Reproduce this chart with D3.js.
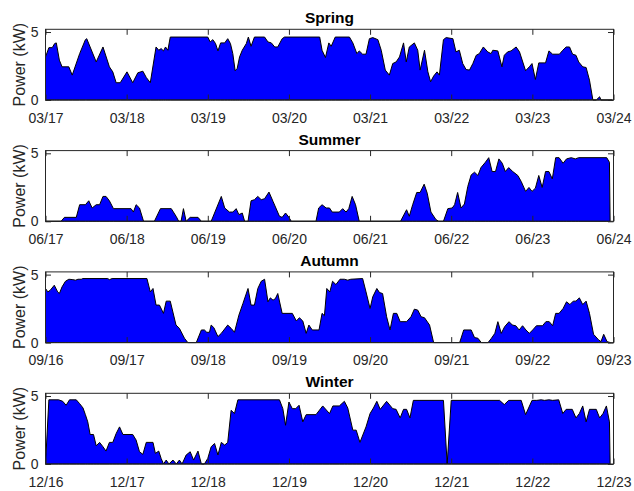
<!DOCTYPE html>
<html>
<head>
<meta charset="utf-8">
<script src="https://cdn.jsdelivr.net/npm/d3@7"></script>
<style>
  body { margin: 0; background: #fff; }
  text { font-family: "Liberation Sans", Arial, Helvetica, sans-serif; }
</style>
</head>
<body>
<div id="chart"></div>
<script>
// hours since start of week, power in kW
const springHours = [0,0.2,1,2,2.7,3.2,4.1,4.9,6.9,7.9,10.1,11.8,12.2,15,17,18.9,19.9,20.9,22.1,24.1,25.8,27.3,28.8,29.8,31,32.7,33.5,34.2,34.9,35.5,36.2,36.9,48,48.7,49.5,50.3,51,51.8,53,53.9,54.7,55.4,56.1,56.7,57.4,58.2,59.4,60,60.8,61.8,64.8,65.8,66.8,67.8,68.7,70,70.7,81.1,81.8,82.8,83.8,84.5,85.7,89.9,90.9,92.1,92.8,93.8,94.8,95.8,96.8,98.3,99.3,100.5,101.7,102.7,103.7,104.7,105.9,106.7,107.6,109.1,110.1,110.8,112.1,113.1,113.9,114.8,115.8,116.5,117.7,118.5,120.5,121.4,122.4,123.4,124.4,125.4,126.4,127.4,128.3,129.5,130.8,131.8,132.3,133.8,135,135.7,136.7,137.7,139.2,140.2,142,143.1,143.9,144.9,145.9,147.9,148.9,150,152,153,154,155,155.9,156.9,157.7,158.9,159.9,160.9,161.9,162.9,163.9,164.3,167.7];
const springPower = [3.17,3.3,3.85,3.85,4.15,4.2,2.93,2.44,2.44,1.83,3.41,4.44,4.51,2.8,3.9,2.44,2.07,1.27,1.27,2.07,1.27,2.0,2.12,1.66,1.27,3.9,3.66,3.78,3.61,3.9,3.66,4.63,4.63,4.27,4.44,4.15,3.61,4.2,4.2,4.51,4.15,3.41,2.15,2.32,3.17,3.66,4.15,4.63,3.95,4.63,4.63,4.27,4.2,3.9,3.9,4.51,4.63,4.63,3.66,3.12,4.2,3.95,4.63,4.63,4.2,3.41,3.61,3.37,3.37,4.51,4.59,4.44,3.66,2.2,1.83,2.68,2.8,3.17,4.2,2.8,3.9,4.2,3.66,2.2,3.66,2.07,1.34,1.76,2.07,1.83,4.44,4.59,4.51,3.54,3.66,2.68,2.24,2.2,2.68,3.29,3.41,3.9,3.54,3.41,3.66,3.61,2.44,3.29,3.54,3.61,3.9,3.54,2.15,2.44,2.68,1.51,2.73,2.73,3.61,3.37,3.37,3.66,3.9,3.9,3.37,3.29,2.8,2.44,2.39,1.46,0,0,0.24,0,0];

const summerHours = [0,4.6,5.6,9.1,10.1,11.8,12.8,13.8,15,16,17,17.9,18.9,20.1,25.3,26,26.8,27.8,29,32.2,34,37.2,38.7,39.4,40.1,40.8,41.6,42.8,45.1,46.1,49,52,53,54.4,55.4,56.4,57.2,58.2,58.9,59.9,60.8,61.8,62.8,63.8,64.8,66.1,67.3,69.2,70,71,72,72.7,80,80.8,81.8,83,84,84.8,86.9,87.9,88.9,89.7,90.7,91.7,92.8,105,106.8,107.6,108.6,109.8,110.8,112,112.9,114,115.5,116.3,117.7,119,120.3,121,121.9,122.9,123.9,124.9,125.9,126.9,127.9,128.8,130.1,131.1,132.1,133.1,134.1,135.1,136,137,138.2,139.7,140.7,142,143,143.9,144.9,145.9,146.9,147.9,148.9,149.9,150.9,151.9,153.1,154.1,155.5,156.7,157.7,166,166.8,167];
const summerPower = [0,0,0.29,0.29,1.22,1.22,1.51,0.98,1.22,1.22,1.83,1.83,1.51,0.93,0.93,0.68,1.22,0.98,0,0,0.93,0.93,0.34,0,0,0.93,0,0.29,0.29,0,0,1.83,0.98,0.68,0.68,0.93,0.49,0.61,0,0,1.51,1.59,1.83,1.59,1.66,2.15,1.46,0.37,0.29,0.61,0.29,0,0,0.98,1.22,0.98,0.98,0.68,0.68,0.93,0.68,0.93,1.83,1.22,0,0,0.85,0.37,1.22,2.12,2.12,2.73,2.07,0.68,0.12,0,0,0.93,0.98,1.22,2.12,0.98,1.27,2.56,3.41,3.61,3.37,3.95,4.34,4.68,3.66,3.66,4.59,4.27,3.66,3.95,3.66,3.37,2.93,2.2,2.49,2.2,2.44,3.37,2.49,3.66,3.66,3.12,4.68,4.68,4.27,4.59,4.68,4.59,4.68,4.68,4.34,0];

const autumnHours = [0,0.7,1.4,2.6,3.6,4.1,4.9,5.9,6.9,8.1,8.9,9.6,10.6,11,18.4,18.9,19.7,30,31,31.8,32.7,33.7,34.9,35.7,36.9,38.6,39.6,41.1,42.1,44.6,46.1,47,47.7,48.5,49,49.8,51,52,53.9,54.9,55.9,57.2,58.4,59.9,60.8,61.8,62.8,63.8,64.8,65.8,66.5,67.3,68,68.7,70,73,74.2,75.1,76.1,77.1,77.9,78.9,80.9,81.8,82.5,83.2,84.1,84.9,85.9,87.1,88.4,89.4,90.3,93.8,94.8,96,96.8,98,98.8,99.7,100.9,101.9,102.9,103.9,104.9,106.8,108.1,109.1,110.1,111.1,112.1,113.6,114.8,122.5,123.7,125.9,126.9,127.9,128.9,130.9,131.9,132.9,133.8,134.8,135.8,137.1,138.1,139.1,140.1,141.1,142.1,143.1,144.1,145.2,147,148,149,150,150.9,151.9,153.1,154.1,155.1,156.1,156.9,157.9,158.9,159.9,160.9,162.1,163.6,164.3,165.1,166.1,167.1];
const autumnPower = [3.98,3.73,3.85,4.22,3.73,3.61,4.1,4.51,4.66,4.63,4.59,4.66,4.66,4.71,4.71,4.63,4.71,4.71,3.73,3.98,2.76,2.76,2.15,3.05,3.05,1.29,1.05,0.32,0,0,0.93,0.93,0.76,0.76,1.29,1.1,0.44,0.68,1.29,1.05,0.76,2.02,2.88,3.98,2.76,2.76,3.98,4.51,4.66,3.0,3.29,3.12,3.24,3.61,2.15,2.15,1.59,1.83,1.59,0.68,1.29,0.93,0.93,2.15,1.98,3.98,3.73,4.51,4.27,4.66,4.66,4.59,4.66,4.71,3.73,2.51,3.37,3.98,3.68,3.61,1.9,0.93,2.15,2.15,1.54,1.54,1.9,2.46,2.39,1.9,1.83,1.29,0,0,0.93,0.93,0.37,0.32,0,0,0.32,0.68,1.54,0.68,1.17,1.54,1.29,1.24,0.93,1.24,0.93,0.68,0.93,1.24,1.24,1.54,1.54,1.24,2.15,2.15,2.51,3.0,2.8,3.05,3.05,3.29,2.8,3.05,2.15,0.61,0.2,0.07,0.61,0.07,0];

const winterHours = [0,1,3.9,5.1,6.1,7.1,9.1,10.1,11.1,11.8,12.5,13.2,14.2,15,16,17,17.9,18.9,19.9,20.9,21.9,22.9,25.8,26.8,27.8,28.8,29.8,31.8,32.5,33.5,34.2,34.9,35.7,36.5,37.7,38.7,39.6,40.4,41.6,42.8,43.8,45.1,46.1,47,48,49,50,51,52,53,53.9,54.9,55.9,56.9,69.2,70.2,71,72,73,74,75,76.1,77.1,80,82,84,85,86.9,88.4,89.4,90.9,91.9,93,94.8,96,97,98,99,100.9,102.7,103.7,104.9,105.9,106.8,107.8,108.8,117.7,118.8,120,134.3,135.7,137,140.7,142,143.9,145.3,146.6,147.6,148.9,150,151.8,153,154,155.8,156.9,157.9,158.9,159.9,160.9,162.9,163.9,164.9,165.9,166.8,167];
const winterPower = [0,4.72,4.72,4.61,4.32,4.72,4.72,4.44,4.12,3.63,3.1,2.17,2.17,1.34,1.59,1.27,0.95,1.59,1.59,2.24,2.73,2.17,2.17,1.76,0.9,0.71,1.59,1.59,0.78,0.95,0.41,0,0.29,0,0.29,0,0.29,0,0.66,0.9,0.29,0.95,0,0,0.41,1.27,1.51,0.66,1.59,1.39,1.59,3.95,3.71,4.72,4.72,4.07,2.85,4.56,4.07,4.07,4.32,3.1,3.63,3.63,4.27,3.71,4.27,4.27,4.61,4.12,2.49,2.49,1.59,2.73,3.71,4.12,4.61,4.02,4.61,4.07,4.02,3.39,4.02,4.02,3.39,4.68,4.68,0,4.68,4.68,4.37,4.68,4.68,3.63,4.68,4.68,4.72,4.68,4.72,4.68,4.72,3.71,4.02,4.02,3.39,3.71,4.27,3.1,4.02,4.02,3.39,3.71,4.27,3.1,0];

const seasons = ["Spring", "Summer", "Autumn", "Winter"];
const tickLabels = [
  ["03/17","03/18","03/19","03/20","03/21","03/22","03/23","03/24"],
  ["06/17","06/18","06/19","06/20","06/21","06/22","06/23","06/24"],
  ["09/16","09/17","09/18","09/19","09/20","09/21","09/22","09/23"],
  ["12/16","12/17","12/18","12/19","12/20","12/21","12/22","12/23"]
];
const yTicks = [0, 5];
const allHours = [springHours, summerHours, autumnHours, winterHours];
const allPower = [springPower, summerPower, autumnPower, winterPower];

const W = 634, H = 491;
const left = 45.5, width = 568, height = 70.7;
const tops = [29.3, 150.6, 271.9, 393.3];
const axisColor = "#262626";

const svg = d3.select("#chart").append("svg")
  .attr("width", W)
  .attr("height", H);

const x = d3.scaleLinear().domain([0, 168]).range([0, width]);
const y = d3.scaleLinear().domain([0, 5.2]).range([height, 0]);

seasons.forEach(function (name, i) {
  const data = allHours[i].map((h, j) => ({ h: h, p: allPower[i][j] }));
  const g = svg.append("g").attr("transform", `translate(${left}, ${tops[i]})`);

  // filled area
  g.append("path")
    .datum(data)
    .attr("fill", "#0000ff")
    .attr("stroke", "#000")
    .attr("stroke-width", 1)
    .attr("d", d3.area()
      .x(d => x(d.h))
      .y0(y(0))
      .y1(d => y(d.p)));

  const ticks = d3.range(0, 169, 24);

  // bottom axis, inward ticks
  const xb = g.append("g")
    .attr("transform", `translate(0, ${height})`)
    .call(d3.axisBottom(x).tickValues(ticks).tickSize(-5.5).tickSizeOuter(0).tickPadding(12.8)
      .tickFormat((d, k) => tickLabels[i][k]));
  // top axis
  const xt = g.append("g")
    .call(d3.axisTop(x).tickValues(ticks).tickSize(-5.5).tickSizeOuter(0).tickFormat(""));
  // left axis
  const yl = g.append("g")
    .call(d3.axisLeft(y).tickValues(yTicks).tickSize(-5.5).tickSizeOuter(0).tickPadding(7)
      .tickFormat(d3.format("d")));
  // right axis
  const yr = g.append("g")
    .attr("transform", `translate(${width}, 0)`)
    .call(d3.axisRight(y).tickValues(yTicks).tickSize(-5.5).tickSizeOuter(0).tickFormat(""));

  [xb, xt, yl, yr].forEach(function (a) {
    a.select(".domain").remove();
    a.selectAll("line").attr("stroke", axisColor);
    a.selectAll("text")
      .attr("fill", axisColor)
      .style("font-size", "14px")
      .style("font-family", '"Liberation Sans", Arial, Helvetica, sans-serif');
  });

  // box
  g.append("rect")
    .attr("width", width)
    .attr("height", height)
    .attr("fill", "none")
    .attr("stroke", axisColor)
    .attr("stroke-width", 1);

  // title
  g.append("text")
    .attr("x", width / 2)
    .attr("y", -6)
    .attr("text-anchor", "middle")
    .style("font-size", "15.5px")
    .style("font-weight", "bold")
    .attr("fill", "#000")
    .text(name);

  // y label
  g.append("text")
    .attr("transform", `translate(${25 - left}, ${height / 2}) rotate(-90)`)
    .attr("text-anchor", "middle")
    .style("font-size", "16px")
    .attr("fill", axisColor)
    .text("Power (kW)");
});
</script>
</body>
</html>
